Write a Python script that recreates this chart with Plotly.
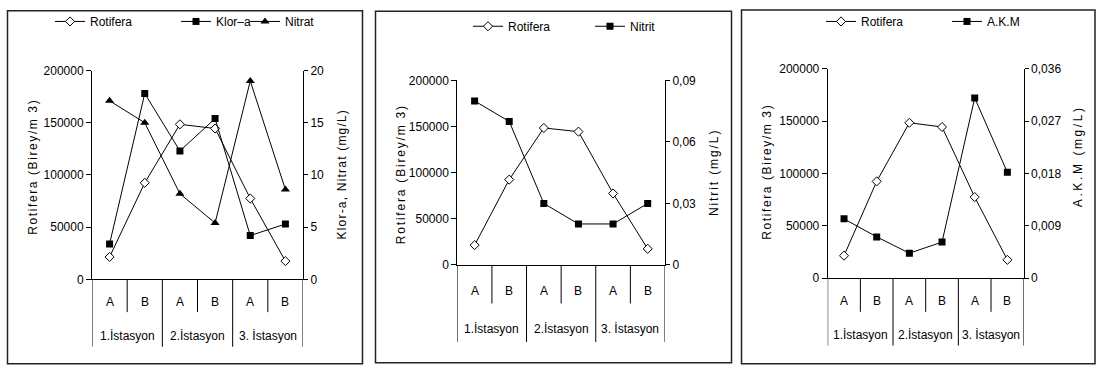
import plotly.graph_objects as go

# ---------------- data ----------------
stations = ["1.İstasyon", "2.İstasyon", "3. İstasyon"]
sub_labels = ["A", "B", "A", "B", "A", "B"]

rotifera = [21500, 92500, 148500, 144500, 77500, 17500]
klor_a = [3.4, 17.8, 12.3, 15.4, 4.2, 5.3]
nitrat = [17.1, 15.0, 8.2, 5.4, 19.0, 8.6]
nitrit = [0.080, 0.070, 0.030, 0.020, 0.020, 0.030]
akm = [0.0102, 0.0071, 0.0043, 0.0062, 0.0310, 0.0182]

left_ticks = [0, 50000, 100000, 150000, 200000]
left_ticktext = ["0", "50000", "100000", "150000", "200000"]
p1_right_ticks = [0, 5, 10, 15, 20]
p1_right_ticktext = ["0", "5", "10", "15", "20"]
p2_right_ticks = [0, 0.03, 0.06, 0.09]
p2_right_ticktext = ["0", "0,03", "0,06", "0,09"]
p3_right_ticks = [0, 0.009, 0.018, 0.027, 0.036]
p3_right_ticktext = ["0", "0,009", "0,018", "0,027", "0,036"]

left_title = "Rotifera (Birey/m 3)"
p1_right_title = "Klor-a, Nitrat (mg/L)"
p2_right_title = "Nitrit (mg/L)"
p3_right_title = "A.K.M (mg/L)"

# ---------------- layout helpers ----------------
W, H = 1098, 374
FONT = "Liberation Sans, Arial, sans-serif"


def X(px):
    return px / W


def Y(py):
    return 1 - py / H


n = len(sub_labels)
xpos = [i + 0.5 for i in range(n)]

panels = [
    dict(x0=92, x1=303, ytop=66, ybot=283, ab_y=306, st_y=342, short=317, long=353,
         border=(7.5, 4, 362.5, 370.5), lt=(33, 166, 1.6), rt=(342, 174, 1.2),
         rmax=20, rticks=p1_right_ticks, rtext=p1_right_ticktext, rtitle=p1_right_title),
    dict(x0=457.3, x1=665, ytop=76.3, ybot=268, ab_y=295, st_y=335, short=308, long=348,
         border=(375.5, 4.5, 731.5, 369.5), lt=(401.7, 174, 1.8), rt=(714, 171.5, 1.9),
         rmax=0.09, rticks=p2_right_ticks, rtext=p2_right_ticktext, rtitle=p2_right_title),
    dict(x0=827.7, x1=1023.7, ytop=64.3, ybot=281.7, ab_y=305, st_y=341, short=316.7, long=351.7,
         border=(741.5, 3, 1095, 370.5), lt=(766.7, 171.5, 1.6), rt=(1078, 155, 2.6),
         rmax=0.036, rticks=p3_right_ticks, rtext=p3_right_ticktext, rtitle=p3_right_title),
]

fig = go.Figure()

rot_style = dict(mode="lines+markers", line=dict(color="black", width=1),
                 marker=dict(symbol="diamond", size=7, color="white",
                             line=dict(color="black", width=1)))
sq_style = dict(mode="lines+markers", line=dict(color="black", width=1),
                marker=dict(symbol="square", size=7, color="black"))
tri_style = dict(mode="lines+markers", line=dict(color="black", width=1),
                 marker=dict(symbol="triangle-up", size=8, color="black"))

# panel 1
fig.add_trace(go.Scatter(x=xpos, y=rotifera, name="Rotifera", xaxis="x", yaxis="y",
                         legend="legend2", **rot_style))
fig.add_trace(go.Scatter(x=xpos, y=klor_a, name="Klor–a", xaxis="x", yaxis="y2",
                         legend="legend3", **sq_style))
fig.add_trace(go.Scatter(x=xpos, y=nitrat, name="Nitrat", xaxis="x", yaxis="y2",
                         legend="legend4", **tri_style))
# panel 2
fig.add_trace(go.Scatter(x=xpos, y=rotifera, name="Rotifera", xaxis="x2", yaxis="y3",
                         legend="legend5", **rot_style))
fig.add_trace(go.Scatter(x=xpos, y=nitrit, name="Nitrit", xaxis="x2", yaxis="y4",
                         legend="legend6", **sq_style))
# panel 3
fig.add_trace(go.Scatter(x=xpos, y=rotifera, name="Rotifera", xaxis="x3", yaxis="y5",
                         legend="legend7", **rot_style))
fig.add_trace(go.Scatter(x=xpos, y=akm, name="A.K.M", xaxis="x3", yaxis="y6",
                         legend="legend8", **sq_style))

layout = dict(
    width=W, height=H, autosize=False,
    margin=dict(l=0, r=0, t=0, b=0),
    paper_bgcolor="white", plot_bgcolor="white",
    font=dict(family=FONT, size=12, color="black"),
    showlegend=True,
)

shapes = []
annotations = []

axis_common = dict(showgrid=False, zeroline=False, showline=True, linecolor="black",
                   linewidth=1, fixedrange=True,
                   tickfont=dict(family=FONT, size=12, color="black"))

for k, p in enumerate(panels):
    xa = "xaxis" if k == 0 else f"xaxis{k + 1}"
    xr = "x" if k == 0 else f"x{k + 1}"
    yl_i = 2 * k + 1
    yr_i = 2 * k + 2
    yl = "yaxis" if yl_i == 1 else f"yaxis{yl_i}"
    ylr = "y" if yl_i == 1 else f"y{yl_i}"
    yr = f"yaxis{yr_i}"
    ydom = [Y(p["ybot"]), Y(p["ytop"])]
    layout[xa] = dict(domain=[X(p["x0"]), X(p["x1"])], range=[0, n], anchor=ylr,
                      showticklabels=False, ticks="", **axis_common)
    layout[yl] = dict(domain=ydom, range=[0, 200000], anchor=xr, side="left",
                      tickvals=left_ticks, ticktext=left_ticktext,
                      ticks="outside", ticklen=5, tickcolor="black", **axis_common)
    layout[yr] = dict(domain=ydom, range=[0, p["rmax"]], anchor=xr, side="right",
                      overlaying=ylr, tickvals=p["rticks"], ticktext=p["rtext"],
                      ticks="outside", ticklen=4, tickcolor="black", **axis_common)

    # category separators below the axis
    for b in range(n + 1):
        bottom = p["long"] if b % 2 == 0 else p["short"]
        shapes.append(dict(type="line", xref=xr, yref="paper", x0=b, x1=b,
                           y0=Y(p["ybot"]), y1=Y(bottom),
                           line=dict(color="black", width=1)))
    # sub-category labels
    for i, lab in enumerate(sub_labels):
        annotations.append(dict(text=lab, xref=xr, yref="paper", x=xpos[i], y=Y(p["ab_y"]),
                                showarrow=False, xanchor="center", yanchor="middle",
                                font=dict(family=FONT, size=12, color="black")))
    # station labels
    for j, st in enumerate(stations):
        annotations.append(dict(text=st, xref=xr, yref="paper", x=2 * j + 1, y=Y(p["st_y"]),
                                showarrow=False, xanchor="center", yanchor="middle",
                                font=dict(family=FONT, size=12, color="black")))
    # axis titles
    lx, ly, ls = p["lt"]
    annotations.append(dict(text=f'<span style="letter-spacing:{ls}px">{left_title}</span>',
                            xref="paper", yref="paper", x=X(lx), y=Y(ly), textangle=-90,
                            showarrow=False, xanchor="center", yanchor="middle",
                            font=dict(family=FONT, size=12, color="black")))
    rx, ry, rs = p["rt"]
    annotations.append(dict(text=f'<span style="letter-spacing:{rs}px">{p["rtitle"]}</span>',
                            xref="paper", yref="paper", x=X(rx), y=Y(ry), textangle=-90,
                            showarrow=False, xanchor="center", yanchor="middle",
                            font=dict(family=FONT, size=12, color="black")))
    # frame
    bx0, by0, bx1, by1 = p["border"]
    shapes.append(dict(type="rect", xref="paper", yref="paper",
                       x0=X(bx0), x1=X(bx1), y0=Y(by1), y1=Y(by0),
                       line=dict(color="#222222", width=1.5), fillcolor="rgba(0,0,0,0)"))

# legends (one per entry, positioned like the original)
legend_pos = [(50, 15), (176, 15), (245, 15), (468, 20), (590, 20), (821, 15), (947, 15)]
for i, (lx, ly) in enumerate(legend_pos):
    key = f"legend{i + 2}"
    layout[key] = dict(orientation="h", x=X(lx), y=Y(ly), xanchor="left", yanchor="middle",
                       bgcolor="rgba(0,0,0,0)", borderwidth=0, itemwidth=30,
                       font=dict(family=FONT, size=12, color="black"))

layout["shapes"] = shapes
layout["annotations"] = annotations
fig.update_layout(**layout)

fig.write_html(
    "out.html",
    config={"displayModeBar": False},
    post_script="document.body.style.margin='0px';document.body.style.overflow='hidden';",
)
